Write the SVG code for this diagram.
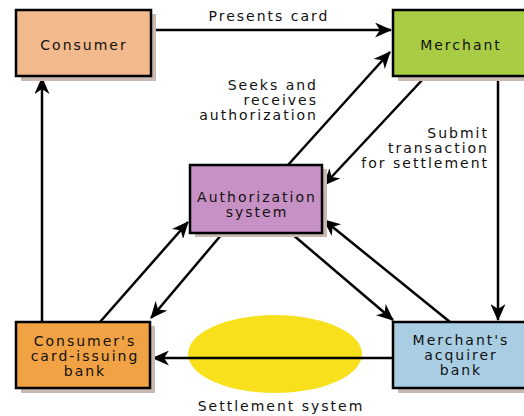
<svg xmlns="http://www.w3.org/2000/svg" width="524" height="416" viewBox="0 0 524 416">
<style>
.box{stroke:#000;stroke-width:2.5}
.sh{fill:#c9b9b0}
.t{font-family:"DejaVu Sans",sans-serif;font-size:14px;letter-spacing:2px;fill:#111}
.m{text-anchor:middle}
.e{text-anchor:end}
.c{stroke:#000;stroke-width:2.5;fill:none;marker-end:url(#ah)}
</style>
<defs>
<marker id="ah" markerUnits="userSpaceOnUse" markerWidth="17" markerHeight="15" viewBox="0 0 17 15" refX="16" refY="7.5" orient="auto">
<path d="M0,0 L17,7.5 L0,15 L5,7.5 z" fill="#000"/>
</marker>
</defs>
<rect width="524" height="416" fill="#fff"/>
<ellipse id="settlement" cx="275" cy="354" rx="87" ry="39" fill="#f8e01c"/>
<g id="connectors">
<path class="c" d="M151,30 L391,30"/>
<path class="c" d="M42,322 L42,78"/>
<path class="c" d="M288,165 L390,52"/>
<path class="c" d="M425,77 L324,185"/>
<path class="c" d="M498,77 L498,320"/>
<path class="c" d="M100,322 L188,222"/>
<path class="c" d="M222,234 L151,318"/>
<path class="c" d="M292,234 L393,320"/>
<path class="c" d="M450,322 L324,220"/>
<path class="c" d="M393,358 L153,358"/>
</g>
<g id="consumer">
<rect class="sh" x="21" y="14" width="135" height="67"/>
<rect class="box" x="16" y="10" width="135" height="66" fill="#f2b98c"/>
<text class="t m" x="84" y="50">Consumer</text>
</g>
<g id="merchant">
<rect class="sh" x="398" y="14" width="140" height="67"/>
<rect class="box" x="393" y="10" width="140" height="66" fill="#a9cc45"/>
<text class="t m" x="461" y="50">Merchant</text>
</g>
<g id="authorization">
<rect class="sh" x="195" y="169" width="132" height="68"/>
<rect class="box" x="190" y="165" width="132" height="68" fill="#c891c6"/>
<text class="t m" x="257" y="202">Authorization</text>
<text class="t m" x="257" y="217">system</text>
</g>
<g id="issuing-bank">
<rect class="sh" x="21" y="326" width="134" height="67"/>
<rect class="box" x="16" y="322" width="134" height="66" fill="#f0a244"/>
<text class="t m" x="85" y="346">Consumer's</text>
<text class="t m" x="85" y="361">card-issuing</text>
<text class="t m" x="85" y="376">bank</text>
</g>
<g id="acquirer-bank">
<rect class="sh" x="398" y="326" width="140" height="67"/>
<rect class="box" x="393" y="322" width="140" height="66" fill="#a9cde2"/>
<text class="t m" x="461" y="345">Merchant's</text>
<text class="t m" x="461" y="360">acquirer</text>
<text class="t m" x="461" y="375">bank</text>
</g>
<g id="labels">
<text class="t m" x="269" y="21">Presents card</text>
<text class="t e" x="318" y="90">Seeks and</text>
<text class="t e" x="318" y="105">receives</text>
<text class="t e" x="318" y="120">authorization</text>
<text class="t e" x="489" y="138">Submit</text>
<text class="t e" x="489" y="153">transaction</text>
<text class="t e" x="489" y="168">for settlement</text>
<text class="t m" x="281" y="411">Settlement system</text>
</g>
</svg>
